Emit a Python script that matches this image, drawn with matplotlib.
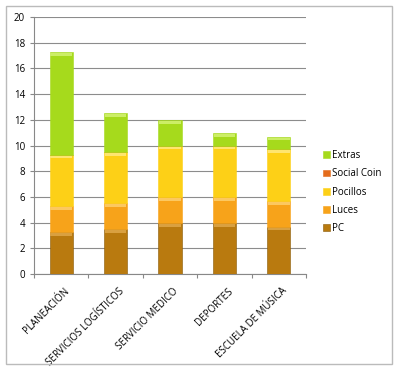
import numpy as np
import matplotlib.pyplot as plt
from matplotlib.patches import Rectangle

# categories and stacked series (bottom to top)
categories = ['PLANEACIÓN', 'SERVICIOS LOGÍSTICOS', 'SERVICIO MEDICO', 'DEPORTES', 'ESCUELA DE MÚSICA']
pc = [3.3, 3.5, 4.0, 4.0, 3.7]
luces = [2.0, 2.0, 2.0, 2.0, 2.0]
pocillos = [4.0, 4.0, 4.0, 4.0, 4.0]
social_coin = [0.0, 0.0, 0.0, 0.0, 0.0]
extras = [8.0, 3.0, 2.0, 1.0, 1.0]
yticks = [0, 2, 4, 6, 8, 10, 12, 14, 16, 18, 20]

series = [('PC', pc, '#B97A0F', '#D9A040'),
          ('Luces', luces, '#F7A31A', '#FCC860'),
          ('Pocillos', pocillos, '#FDD017', '#FEE570'),
          ('Social Coin', social_coin, '#E46C1C', '#F29A5A'),
          ('Extras', extras, '#A6DA1C', '#CCEE66')]

plt.rcParams['font.family'] = ['Open Sans', 'DejaVu Sans']

fig = plt.figure(figsize=(4.0, 3.77), dpi=100)
ax = fig.add_axes([0.085, 0.273, 0.68, 0.682])

# chart border
fig.patches.append(Rectangle((6 / 400, 1 - 364 / 377), 386 / 400, 358 / 377,
                             transform=fig.transFigure, fill=False,
                             edgecolor='#BBBBBB', linewidth=1.0))

x = np.arange(len(categories))
width = 0.43
bottom = np.zeros(len(categories))
handles = []
for name, vals, col, light in series:
    vals = np.array(vals)
    b = ax.bar(x, vals, width, bottom=bottom, color=col, edgecolor='#8A5A08' if name == 'PC' else col,
               linewidth=0.4, zorder=3, label=name)
    # lighter shine strip at top of each segment
    strip = np.where(vals > 0, 0.22, 0)
    ax.bar(x, strip, width * 0.92, bottom=bottom + vals - strip - 0.08, color=light,
           linewidth=0, zorder=4)
    handles.append(b)
    bottom = bottom + vals

ax.set_ylim(0, 20)
ax.set_xlim(-0.5, len(categories) - 0.5)
ax.set_yticks(yticks)
ax.tick_params(axis='y', labelsize=7, length=3, direction='out', color='#888888')
ax.yaxis.grid(True, color='#8C8C8C', linewidth=0.8, zorder=0)
ax.set_axisbelow(True)

# x ticks between categories, labels at bar centers
ax.set_xticks(np.arange(len(categories) + 1) - 0.5)
ax.set_xticklabels([])
ax.tick_params(axis='x', length=3, direction='out', color='#888888')
for i, c in enumerate(categories):
    ax.text(i + 0.05, -0.9, c, rotation=45, ha='right', va='top', rotation_mode='anchor',
            fontsize=7, transform=ax.transData)

for s in ['top', 'right']:
    ax.spines[s].set_visible(False)
ax.spines['left'].set_color('#888888')
ax.spines['bottom'].set_color('#888888')

leg = fig.legend(handles[::-1], [h.get_label() for h in handles[::-1]],
                 loc='upper left', bbox_to_anchor=(0.785, 0.625), frameon=False,
                 fontsize=7, handlelength=0.7, handleheight=0.7, handletextpad=0.3,
                 labelspacing=0.75)

fig.savefig('out.png', dpi=100)
